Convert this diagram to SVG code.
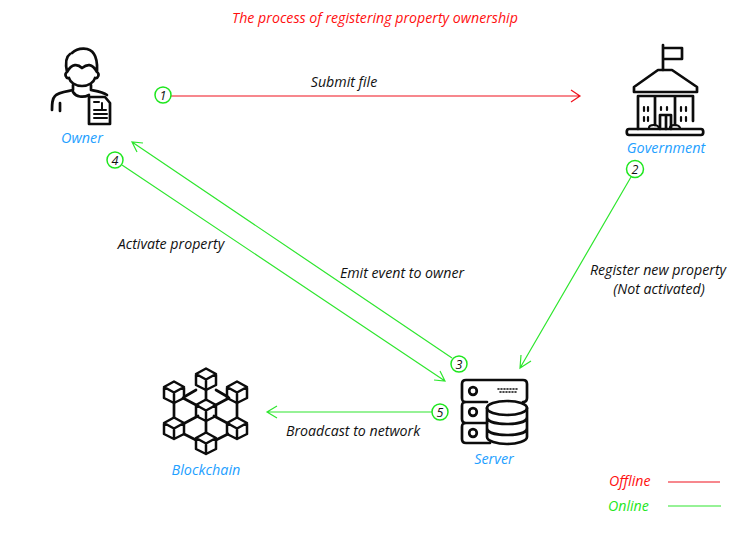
<svg xmlns="http://www.w3.org/2000/svg" width="750" height="536" viewBox="0 0 750 536">
<style>
text{font-family:"Open Sans","Noto Sans","Liberation Sans",sans-serif;font-style:italic;font-size:14.2px;fill:#111}
.t{text-anchor:middle}
.n{fill:#1ea0ff;font-size:14.4px;text-anchor:middle}
text.r{fill:#ff0f0f}
text.g{fill:#22e622}
.lr{stroke:#f0101c;stroke-width:1.2;fill:none}
.lg{stroke:#2ee62e;stroke-width:1.2;fill:none}
.c{fill:#fff;stroke:#1ee61e;stroke-width:1.5}
.i{fill:none;stroke:#0c0c0c;stroke-width:2.7;stroke-linecap:round;stroke-linejoin:round}
text.d{font-size:12.5px;text-anchor:middle}
</style>
<defs>
<g id="cube" class="i" style="stroke-width:2.5"><path d="M0-10.5 10-5V6L0 11-10 6V-5ZM-10-5 0 .5 10-5M0 .5V11"/></g>
</defs>
<text class="t r" x="375" y="23">The process of registering property ownership</text>
<g id="connectors">
<path class="lr" d="M171 96H580M571 90l9 6-9 6"/>
<path class="lg" d="M452 358 132 142M143 143l-11-1 5 10"/>
<path class="lg" d="M122 165 445 381M434 380l11 1-5-10"/>
<path class="lg" d="M631 177 520 368M531 361l-11 7 1-13"/>
<path class="lg" d="M432 412H267M277 406l-10 6 10 6"/>
</g>
<g id="owner">
<path class="i" d="M72 53C78 47 90 47 94 54 98 60 97 68 97 72M67 72C65 62 67 56 70 54M67 72C72 63 78 64 82 68 87 64 92 63 97 72M67 72C64 74 66 79 69 78 70 82 75 86 82 86 89 86 94 82 95 78 98 79 100 74 97 72M73 85V90C70 91 58 92 55 96 52 99 52 104 52 110M91 85V90C96 91 103 92 107 95M60 103V111M73 92C76 97 83 98 89 95"/>
<path class="i" d="M89 97H105L110 103V124H89Z"/>
<path class="i" style="stroke-width:2" d="M94 102H99M102 103V110M94 110H106M94 114H107M94 118H107"/>
<text class="n" x="82" y="143">Owner</text>
</g>
<g id="government">
<path class="i" d="M663 45V70M665 48H682V59H665"/>
<path class="i" d="M658 70H672L697 87V92H634V87ZM638 96H693M638 96V129M693 96V121M655 96V125M675 96V125M660 129V115H671V129M666 115V129"/>
<path class="i" d="M629 129H701C704 129 704 135 701 135H629C626 135 626 129 629 129Z"/>
<path class="i" style="stroke-width:2.2" d="M644 107V111M648 107V111M644 117V121M648 117V121M661 107V110M667 107V110M681 107V111M686 107V111M681 117V121M686 117V121M649 128C649 124 658 124 659 128M670 128C670 124 679 124 680 128"/>
<text class="n" x="666" y="153">Government</text>
</g>
<g id="blockchain">
<path class="i" d="M206 390V400M184 397 196 390M228 397 216 390M174 403V417M237 403V417M183 398 198 406M229 398 214 406M198 416 183 424M214 416 229 424M206 421V432M184 434 196 440M228 434 216 440"/>
<use href="#cube" x="206" y="379"/><use href="#cube" x="174" y="392"/><use href="#cube" x="237" y="392"/><use href="#cube" x="206" y="410"/><use href="#cube" x="174" y="428"/><use href="#cube" x="237" y="428"/><use href="#cube" x="206" y="443"/>
<text class="n" x="206" y="475">Blockchain</text>
</g>
<g id="server">
<path class="i" d="M487 402H466C463 402 462 401 462 398V384C462 381 464 380 466 380H523C526 380 527 382 527 384V398C527 400 526 402 523 402M487 402H466C463 402 462 403 462 406V419C462 422 464 423 466 423H487M466 423C463 423 462 424 462 427V439C462 442 464 443 466 443H490"/>
<circle class="i" cx="473" cy="391" r="3.8"/><circle class="i" cx="473" cy="412" r="3.8"/><circle class="i" cx="473" cy="433" r="3.8"/>
<path class="i" style="stroke-width:1.6;stroke-dasharray:1 2" d="M498 389H519M500 392H518"/>
<ellipse class="i" cx="507" cy="408" rx="20" ry="7" style="fill:#fff"/>
<path class="i" d="M487 408V437C487 441 497 444 507 444S527 441 527 437V408M487 417C487 422 497 424 507 424S527 422 527 417M487 428C487 433 497 435 507 435S527 433 527 428"/>
<text class="n" x="494" y="464">Server</text>
</g>
<g id="badge-1"><circle class="c" cx="163" cy="95" r="8"/><text class="d" x="163" y="99.500">1</text></g>
<g id="badge-4"><circle class="c" cx="115" cy="160" r="8"/><text class="d" x="115" y="164.500">4</text></g>
<g id="badge-2"><circle class="c" cx="635" cy="169" r="8.5"/><text class="d" x="635" y="173.500">2</text></g>
<g id="badge-3"><circle class="c" cx="459" cy="364" r="8"/><text class="d" x="459" y="368.500">3</text></g>
<g id="badge-5"><circle class="c" cx="440" cy="412" r="8"/><text class="d" x="440" y="416.500">5</text></g>
<text class="t" x="344" y="87">Submit file</text>
<text class="t" x="171" y="249">Activate property</text>
<text class="t" x="402" y="278">Emit event to owner</text>
<text class="t" x="658" y="275">Register new property</text>
<text class="t" x="659" y="294">(Not activated)</text>
<text class="t" x="353" y="436">Broadcast to network</text>
<g id="legend">
<text class="r" x="609" y="486">Offline</text>
<path class="lr" d="M668 482H720"/>
<text class="g" x="608" y="511">Online</text>
<path class="lg" d="M668 506H721"/>
</g>
</svg>
